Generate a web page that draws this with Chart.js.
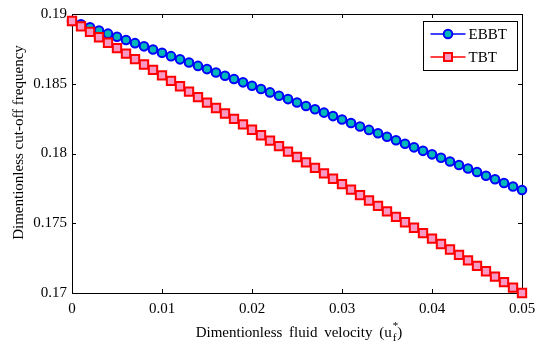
<!DOCTYPE html>
<html>
<head>
<meta charset="utf-8">
<script src="https://cdn.jsdelivr.net/npm/chart.js@4.4.1/dist/chart.umd.min.js"></script>
<style>
  html, body { margin: 0; padding: 0; background: #fff; }
  #wrap { width: 536px; height: 345px; }
</style>
</head>
<body>
<div id="wrap"><canvas id="myChart" width="536" height="345"></canvas></div>
<script>
// fluid velocity (x) values
const velocity = [
    0, 0.001, 0.002, 0.003, 0.004, 0.005, 0.006, 0.007, 0.008, 0.009,
    0.010, 0.011, 0.012, 0.013, 0.014, 0.015, 0.016, 0.017, 0.018, 0.019,
    0.020, 0.021, 0.022, 0.023, 0.024, 0.025, 0.026, 0.027, 0.028, 0.029,
    0.030, 0.031, 0.032, 0.033, 0.034, 0.035, 0.036, 0.037, 0.038, 0.039,
    0.040, 0.041, 0.042, 0.043, 0.044, 0.045, 0.046, 0.047, 0.048, 0.049,
    0.050
];

// EBBT cut-off frequency
const ebbt = [
    0.18950, 0.18927, 0.18905, 0.18882, 0.18859, 0.18837, 0.18814, 0.18791, 0.18768, 0.18745,
    0.18722, 0.18698, 0.18675, 0.18652, 0.18628, 0.18605, 0.18581, 0.18557, 0.18534, 0.18510,
    0.18486, 0.18462, 0.18438, 0.18414, 0.18390, 0.18366, 0.18341, 0.18317, 0.18293, 0.18268,
    0.18244, 0.18219, 0.18194, 0.18169, 0.18145, 0.18120, 0.18095, 0.18070, 0.18044, 0.18019,
    0.17994, 0.17969, 0.17943, 0.17918, 0.17892, 0.17867, 0.17841, 0.17815, 0.17789, 0.17763,
    0.17738
];

// TBT cut-off frequency
const tbt = [
    0.18950, 0.18911, 0.18872, 0.18833, 0.18794, 0.18755, 0.18716, 0.18677, 0.18638, 0.18599,
    0.18560, 0.18521, 0.18482, 0.18443, 0.18404, 0.18365, 0.18326, 0.18287, 0.18248, 0.18209,
    0.18170, 0.18131, 0.18092, 0.18053, 0.18014, 0.17975, 0.17936, 0.17897, 0.17858, 0.17819,
    0.17780, 0.17741, 0.17702, 0.17663, 0.17624, 0.17585, 0.17546, 0.17507, 0.17468, 0.17429,
    0.17390, 0.17351, 0.17312, 0.17273, 0.17234, 0.17195, 0.17156, 0.17117, 0.17078, 0.17039,
    0.17000
];

const xTicks = [0, 0.01, 0.02, 0.03, 0.04, 0.05];
const yTicks = [0.17, 0.175, 0.18, 0.185, 0.19];
const xTickLabels = ['0', '0.01', '0.02', '0.03', '0.04', '0.05'];
const yTickLabels = ['0.17', '0.175', '0.18', '0.185', '0.19'];

const FONT = '"Liberation Serif", "Times New Roman", serif';

function toPoints(ys) {
    return velocity.map((x, i) => ({ x: x, y: ys[i] }));
}

// box + inward ticks, MATLAB style
const boxPlugin = {
    id: 'box',
    beforeDatasetsDraw(chart) {
        const ctx = chart.ctx;
        const a = chart.chartArea;
        const xs = chart.scales.x, ys = chart.scales.y;
        const len = 4;
        ctx.save();
        ctx.strokeStyle = '#000';
        ctx.lineWidth = 1;
        ctx.beginPath();
        xTicks.forEach(v => {
            const px = Math.round(xs.getPixelForValue(v)) + 0.5;
            ctx.moveTo(px, a.bottom); ctx.lineTo(px, a.bottom - len);
            ctx.moveTo(px, a.top); ctx.lineTo(px, a.top + len);
        });
        yTicks.forEach(v => {
            const py = Math.round(ys.getPixelForValue(v)) + 0.5;
            ctx.moveTo(a.left, py); ctx.lineTo(a.left + len, py);
            ctx.moveTo(a.right, py); ctx.lineTo(a.right - len, py);
        });
        ctx.stroke();
        ctx.strokeRect(Math.round(a.left) + 0.5, Math.round(a.top) + 0.5,
            Math.round(a.right - a.left), Math.round(a.bottom - a.top));
        ctx.restore();
    }
};

// legend box and axis titles (x title needs sub/superscript)
const extrasPlugin = {
    id: 'extras',
    afterDraw(chart) {
        const ctx = chart.ctx;
        const a = chart.chartArea;
        ctx.save();

        // legend
        const bw = 94, bh = 49;
        const bx = Math.round(a.right - 5 - bw) + 0.5;
        const by = Math.round(a.top + 7) + 0.5;
        ctx.fillStyle = '#fff';
        ctx.fillRect(bx, by, bw, bh);
        ctx.strokeStyle = '#000';
        ctx.lineWidth = 1;
        ctx.strokeRect(bx, by, bw, bh);
        ctx.font = '15px ' + FONT;
        ctx.textBaseline = 'middle';
        chart.data.datasets.forEach((ds, i) => {
            const cy = by + 12.5 + i * 23;
            const x0 = bx + 7, x1 = bx + 42, mx = (x0 + x1) / 2;
            ctx.strokeStyle = ds.borderColor;
            ctx.lineWidth = ds.borderWidth;
            ctx.beginPath();
            ctx.moveTo(x0, cy); ctx.lineTo(x1, cy);
            ctx.stroke();
            ctx.fillStyle = ds.pointBackgroundColor;
            ctx.strokeStyle = ds.pointBorderColor;
            ctx.lineWidth = ds.pointBorderWidth;
            ctx.beginPath();
            if (ds.pointStyle === 'rect') {
                ctx.rect(mx - 4, cy - 4, 8, 8);
            } else {
                ctx.arc(mx, cy, ds.pointRadius, 0, Math.PI * 2);
            }
            ctx.fill();
            ctx.stroke();
            ctx.fillStyle = '#000';
            ctx.textAlign = 'left';
            ctx.fillText(ds.label, x1 + 3, cy + 1);
        });

        // y axis title
        ctx.save();
        ctx.translate(19, (a.top + a.bottom) / 2 - 11);
        ctx.rotate(-Math.PI / 2);
        ctx.font = '15px ' + FONT;
        ctx.fillStyle = '#000';
        ctx.textAlign = 'center';
        ctx.textBaseline = 'middle';
        ctx.fillText('Dimentionless cut-off frequency', 0, 0);
        ctx.restore();

        // x axis title
        const main = 'Dimentionless fluid velocity (u';
        const tail = ')';
        if ('wordSpacing' in ctx) ctx.wordSpacing = '3px';
        ctx.font = '15px ' + FONT;
        const wMain = ctx.measureText(main).width;
        ctx.font = '11px ' + FONT;
        const wSub = ctx.measureText('f').width;
        ctx.font = '15px ' + FONT;
        const wTail = ctx.measureText(tail).width;
        const total = wMain + wSub + 2 + wTail;
        let x = (a.left + a.right) / 2 + 2 - total / 2;
        const base = 337;
        ctx.fillStyle = '#000';
        ctx.textAlign = 'left';
        ctx.textBaseline = 'alphabetic';
        ctx.fillText(main, x, base);
        x += wMain + 1;
        ctx.font = '11px ' + FONT;
        ctx.fillText('f', x, base + 4);
        ctx.fillText('*', x, base - 8);
        x += wSub + 1;
        ctx.font = '15px ' + FONT;
        ctx.fillText(tail, x, base);

        ctx.restore();
    }
};

const ctx = document.getElementById('myChart').getContext('2d');
const chart = new Chart(ctx, {
    type: 'line',
    data: {
        datasets: [{
            label: 'EBBT',
            data: toPoints(ebbt),
            borderColor: '#0000FF',
            borderWidth: 1.5,
            pointStyle: 'circle',
            pointRadius: 4.3,
            pointBorderWidth: 2,
            pointBorderColor: '#0000FF',
            pointBackgroundColor: '#00B8B8',
            fill: false,
            tension: 0,
            clip: false,
            order: 2
        }, {
            label: 'TBT',
            data: toPoints(tbt),
            borderColor: '#FF0000',
            borderWidth: 1.5,
            pointStyle: 'rect',
            pointRadius: 5.9,
            pointBorderWidth: 2,
            pointBorderColor: '#FF0000',
            pointBackgroundColor: '#F99AC4',
            fill: false,
            tension: 0,
            clip: false,
            order: 1
        }]
    },
    options: {
        responsive: false,
        animation: false,
        devicePixelRatio: 1,
        layout: { padding: { top: 14, right: 14, bottom: 0, left: 0 } },
        plugins: {
            legend: { display: false },
            tooltip: { enabled: false }
        },
        scales: {
            x: {
                type: 'linear',
                min: 0,
                max: 0.05,
                afterBuildTicks: s => { s.ticks = xTicks.map(v => ({ value: v })); },
                afterFit: s => { s.height = 52; s.paddingLeft = 0; s.paddingRight = 0; },
                grid: { display: false, drawTicks: false },
                border: { display: false },
                ticks: {
                    padding: 7,
                    color: '#000',
                    maxRotation: 0,
                    autoSkip: false,
                    font: { family: FONT, size: 15 },
                    callback: (v, i) => xTickLabels[i]
                }
            },
            y: {
                type: 'linear',
                min: 0.17,
                max: 0.19,
                afterBuildTicks: s => { s.ticks = yTicks.map(v => ({ value: v })); },
                afterFit: s => { s.width = 72; s.paddingTop = 0; s.paddingBottom = 0; },
                grid: { display: false, drawTicks: false },
                border: { display: false },
                ticks: {
                    padding: 5,
                    color: '#000',
                    autoSkip: false,
                    font: { family: FONT, size: 15 },
                    callback: (v, i) => yTickLabels[i]
                }
            }
        }
    },
    plugins: [boxPlugin, extrasPlugin]
});
</script>
</body>
</html>
